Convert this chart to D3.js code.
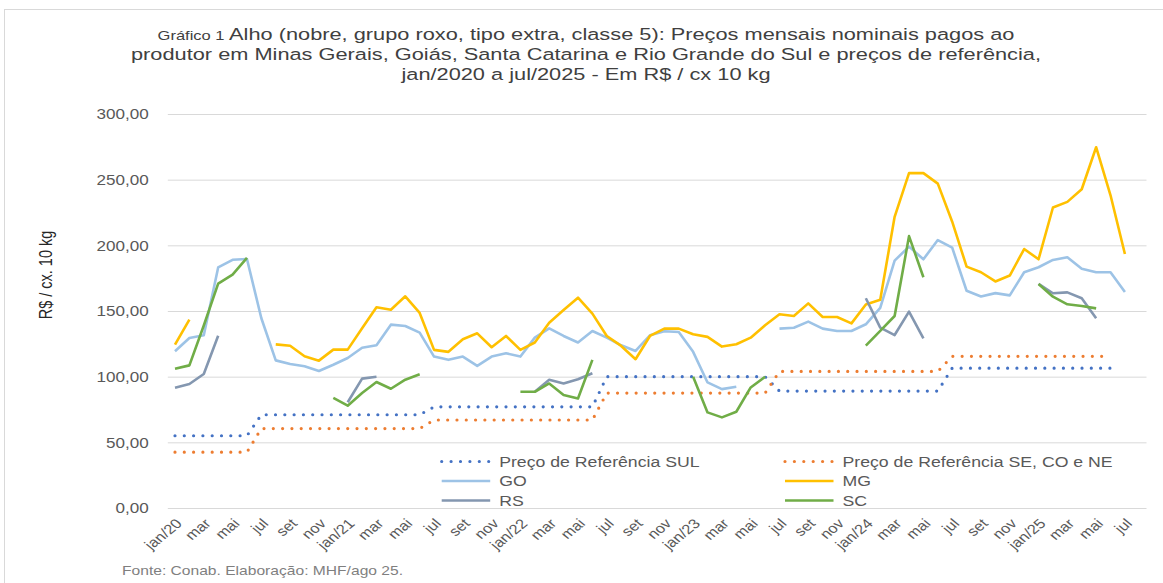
<!DOCTYPE html>
<html><head><meta charset="utf-8">
<script src="https://cdn.jsdelivr.net/npm/d3@7"></script>
<style>
body{margin:0;background:#fff}
svg{display:block}
text{font-family:"Liberation Sans",Arial,Helvetica,sans-serif}
</style>
</head><body>
<svg id="chart" width="1163" height="583"></svg>
<script>
// ---- categories (jan/2020 .. ago/2025) ----
const categories = [
 "jan/20","fev","mar","abr","mai","jun","jul","ago","set","out","nov","dez",
 "jan/21","fev","mar","abr","mai","jun","jul","ago","set","out","nov","dez",
 "jan/22","fev","mar","abr","mai","jun","jul","ago","set","out","nov","dez",
 "jan/23","fev","mar","abr","mai","jun","jul","ago","set","out","nov","dez",
 "jan/24","fev","mar","abr","mai","jun","jul","ago","set","out","nov","dez",
 "jan/25","fev","mar","abr","mai","jun","jul","ago"
];
const yTickValues = [0,50,100,150,200,250,300];

// ---- series ----
const refSul = [
 55,55,55,55,55,55,71,71,71,71,71,71,
 71,71,71,71,71,71,77,77,77,77,77,77,
 77,77,77,77,77,77,100,100,100,100,100,100,
 100,100,100,100,100,100,89,89,89,89,89,89,
 89,89,89,89,89,89,106.5,106.5,106.5,106.5,106.5,106.5,
 106.5,106.5,106.5,106.5,106.5,106.5
];
const refSeCoNe = [
 42.5,42.5,42.5,42.5,42.5,42.5,60.5,60.5,60.5,60.5,60.5,60.5,
 60.5,60.5,60.5,60.5,60.5,60.5,67,67,67,67,67,67,
 67,67,67,67,67,67,87.5,87.5,87.5,87.5,87.5,87.5,
 87.5,87.5,87.5,87.5,87.5,87.5,104,104,104,104,104,104,
 104,104,104,104,104,104,115.5,115.5,115.5,115.5,115.5,115.5,
 115.5,115.5,115.5,115.5,115.5,115.5
];
const go = [
 119.3,129.4,131.5,183.2,189.0,189.6,144.5,112.4,109.6,107.9,104.3,109.1,
 114.2,122.0,123.9,139.6,138.6,133.5,115.3,112.8,115.3,108.2,115.3,117.8,
 115.3,129.7,136.8,131.0,126.0,134.8,129.7,123.9,119.6,131.5,134.6,134.0,
 118.9,95.6,90.5,92.3,null,null,136.6,137.3,141.9,136.6,134.8,134.8,
 139.9,152.3,188.4,199.0,189.4,204.0,198.2,165.4,161.1,163.6,161.9,179.5,
 183.3,188.9,190.9,182.1,179.5,179.5,164.4
];
const mg = [
 124.4,143.4,null,null,null,null,null,124.6,123.6,115.5,112.2,120.6,
 120.6,136.8,152.8,151.0,161.2,148.5,120.4,118.9,128.5,133.0,122.4,131.0,
 120.4,126.0,141.1,150.8,160.1,148.0,131.0,123.4,113.3,131.0,136.6,136.6,
 132.3,130.3,122.9,124.7,129.7,139.1,147.5,146.2,155.8,145.4,145.4,140.6,
 155.0,158.6,221.7,255.0,255.0,247.0,218.0,183.8,179.5,172.5,177.0,197.2,
 189.4,228.8,233.1,242.7,274.7,238.1,193.4
];
const rs = [
 91.6,94.4,102.0,131.2,null,null,null,null,null,null,null,null,
 80.5,98.5,100.0,null,null,null,null,null,null,null,null,null,
 null,88.5,97.6,94.8,98.0,102.6,null,null,null,null,null,null,
 null,null,null,null,null,null,null,null,null,null,null,null,
 159.7,137.3,131.7,149.5,129.2,null,null,null,null,null,null,null,
 170.6,163.5,164.2,159.7,144.4,null,null
];
const sc = [
 106.1,108.6,139.0,170.8,177.7,190.4,null,null,null,null,null,83.8,
 77.9,87.6,95.9,90.8,97.7,101.8,null,null,null,null,null,null,
 88.5,88.5,94.8,86.0,83.4,112.8,null,null,null,null,null,null,
 99.9,72.8,69.0,73.3,91.8,99.9,null,null,null,null,null,null,
 123.6,134.8,146.2,207.0,175.7,null,null,null,null,null,null,null,
 170.6,160.9,155.1,153.8,152.0,null,null
];

const series = [
 {name:"Preço de Referência SUL", values:refSul, color:"#4472C4", dotted:true},
 {name:"Preço de Referência SE, CO e NE", values:refSeCoNe, color:"#ED7D31", dotted:true},
 {name:"GO", values:go, color:"#9DC3E6", dotted:false},
 {name:"MG", values:mg, color:"#FFC000", dotted:false},
 {name:"RS", values:rs, color:"#8497B0", dotted:false},
 {name:"SC", values:sc, color:"#70AD47", dotted:false}
];

// ---- layout ----
const SX = 1.22; // horizontal stretch of the reference rendering
const X0 = 167.8, X1 = 1146.5, YB = 508, YT = 114;
const svg = d3.select("#chart");
const fmt = d3.formatLocale({decimal:",", thousands:".", grouping:[3], currency:["R$",""]}).format(".2f");

svg.append("rect").attr("x",4.5).attr("y",9.5).attr("width",1180).attr("height",600)
  .attr("fill","#fff").attr("stroke","#d9d9d9").attr("stroke-width",1);

const x = d3.scaleBand().domain(d3.range(categories.length)).range([X0, X1]).paddingInner(0).paddingOuter(0);
const cx = i => x(i) + x.bandwidth()/2;
const y = d3.scaleLinear().domain([0,300]).range([YB, YT]);

// title
const title = svg.append("g").attr("transform",`translate(586,0) scale(1.32,1)`)
  .append("text").attr("text-anchor","middle").attr("fill","#404040").attr("font-size",16.5);
const t1 = title.append("tspan").attr("x",0).attr("y",40);
t1.append("tspan").attr("font-size",12.5).text("Gráfico 1 ");
t1.append("tspan").text(" Alho (nobre, grupo roxo, tipo extra, classe 5): Preços mensais nominais pagos ao");
title.append("tspan").attr("x",0).attr("y",60).text("produtor em Minas Gerais, Goiás, Santa Catarina e Rio Grande do Sul e preços de referência,");
title.append("tspan").attr("x",0).attr("y",80).text("jan/2020 a jul/2025 - Em R$ / cx 10 kg");

// y axis with gridlines
const yAxis = svg.append("g").attr("transform",`translate(${X0},0)`)
  .call(d3.axisLeft(y).tickValues(yTickValues).tickSize(-(X1-X0)).tickFormat(fmt));
yAxis.select(".domain").remove();
yAxis.selectAll(".tick line").attr("stroke","#d9d9d9").attr("stroke-width",1);
yAxis.selectAll(".tick text").attr("x",0).attr("dy","0.35em")
  .attr("transform",`translate(-19,0) scale(${SX},1)`)
  .attr("text-anchor","end").attr("fill","#595959").attr("font-size",14)
  .style("font-family","'Liberation Sans',Arial,sans-serif");

// x axis
const xAxis = svg.append("g").attr("transform",`translate(0,${YB})`)
  .call(d3.axisBottom(x).tickValues(d3.range(0, categories.length - 1, 2)).tickSize(0).tickFormat(i => categories[i]));
xAxis.select(".domain").remove();
xAxis.selectAll(".tick text").attr("x",0).attr("y",0).attr("dy","0.35em")
  .attr("transform",`translate(4,13) scale(${SX},1) rotate(-45)`)
  .attr("text-anchor","end").attr("fill","#595959").attr("font-size",13.5)
  .style("font-family","'Liberation Sans',Arial,sans-serif");

// y axis title
svg.append("g").attr("transform",`translate(52,275) scale(${SX},1) rotate(-90)`)
  .append("text").attr("text-anchor","middle").attr("fill","#262626").attr("font-size",14.5)
  .text("R$ / cx. 10 kg");

// lines
const line = d3.line().defined(d => d != null).x((d,i) => cx(i)).y(d => y(d));
const gLines = svg.append("g");
series.forEach(s => {
  const p = gLines.append("path").datum(s.values)
    .attr("fill","none").attr("stroke",s.color).attr("d",line)
    .attr("stroke-linejoin","round");
  if (s.dotted) {
    p.attr("stroke-width",3.2).attr("stroke-dasharray","0 9.3").attr("stroke-linecap","round");
  } else {
    p.attr("stroke-width",2.6).attr("stroke-linecap","butt");
  }
});

// legend
const legCols = [441.7, 785];
const legRows = [461.5, 481, 500.5];
series.forEach((s,k) => {
  const lx = legCols[k % 2], ly = legRows[Math.floor(k/2)];
  const g = svg.append("g");
  const ln = g.append("line").attr("x1",lx).attr("x2",lx+48.5).attr("y1",ly).attr("y2",ly)
    .attr("stroke",s.color);
  if (s.dotted) ln.attr("stroke-width",3.2).attr("stroke-dasharray","0 9.4").attr("stroke-linecap","round");
  else ln.attr("stroke-width",2.6);
  g.append("g").attr("transform",`translate(${lx+57.5},${ly}) scale(${SX},1)`)
    .append("text").attr("dy","0.36em").attr("fill","#595959").attr("font-size",14.5).text(s.name);
});

// source
svg.append("g").attr("transform",`translate(122,575) scale(${SX},1)`)
  .append("text").attr("fill","#7f7f7f").attr("font-size",12.8)
  .text("Fonte: Conab. Elaboração: MHF/ago 25.");
</script>
</body></html>
